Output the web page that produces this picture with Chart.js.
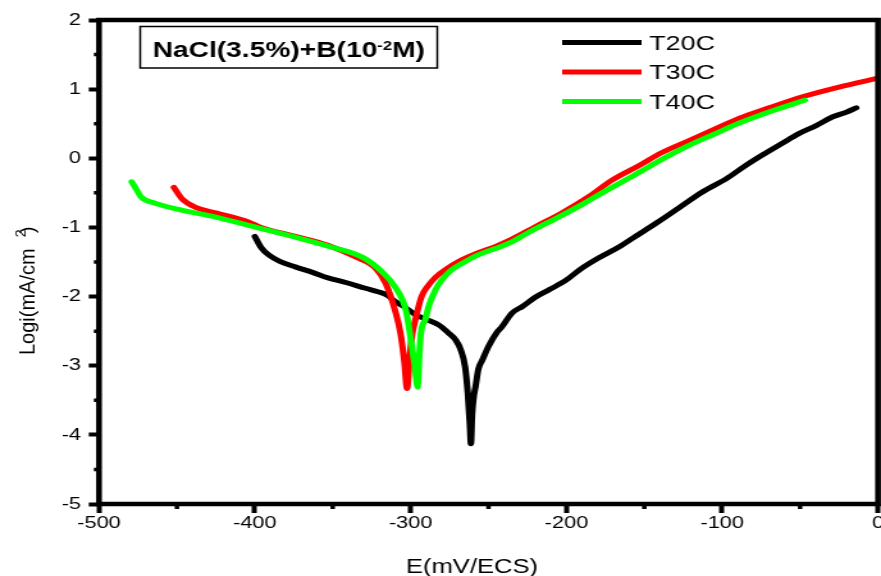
<!DOCTYPE html>
<html>
<head>
<meta charset="utf-8">
<title>Tafel curves NaCl(3.5%)+B</title>
<script src="https://cdn.jsdelivr.net/npm/chart.js@4.4.1/dist/chart.umd.min.js"></script>
<style>
  html, body { margin: 0; padding: 0; background: #fff; overflow: hidden; }
</style>
</head>
<body>
<!-- bitmap is 688 px wide and shown at 881 px, so the whole figure is widened -->
<canvas id="tafelChart" width="688" height="576" style="display:block;width:881px;height:576px"></canvas>
<script>
// potential (mV/ECS) and log current density for each temperature
const x20 = [-400, -396, -391, -384, -374, -363, -353, -341, -329, -321, -315, -310, -304, -297, -290, -282, -276, -271, -268, -265, -263.3, -262, -261.3, -260.5, -259.5, -258.3, -256.5, -254, -250, -245, -241.5, -235, -228, -220, -211, -200, -192, -180, -166, -155, -142.5, -128, -113, -97, -86, -74, -62, -50.5, -40, -29, -20, -14];
const y20 = [-1.13, -1.29, -1.40, -1.49, -1.57, -1.65, -1.73, -1.80, -1.88, -1.93, -1.98, -2.07, -2.15, -2.26, -2.33, -2.41, -2.52, -2.63, -2.76, -3.02, -3.40, -3.85, -4.13, -3.70, -3.45, -3.30, -3.05, -2.92, -2.72, -2.53, -2.44, -2.24, -2.14, -2.01, -1.90, -1.76, -1.62, -1.45, -1.28, -1.12, -0.94, -0.72, -0.49, -0.29, -0.12, 0.05, 0.21, 0.36, 0.47, 0.60, 0.67, 0.73];

const x30 = [-452, -447, -438, -425, -404, -396, -374, -353, -335, -322.5, -316, -310, -306.5, -304, -302.3, -300.5, -299, -297, -293, -289, -284, -277, -269, -257, -245, -235, -220, -203, -186, -171, -153, -139, -121, -106, -89, -70, -48.5, -25, 0];
const y30 = [-0.42, -0.58, -0.71, -0.79, -0.92, -1.00, -1.13, -1.26, -1.43, -1.59, -1.81, -2.20, -2.53, -2.95, -3.33, -2.85, -2.55, -2.34, -2.00, -1.85, -1.72, -1.60, -1.49, -1.37, -1.27, -1.17, -0.99, -0.79, -0.56, -0.32, -0.10, 0.08, 0.26, 0.41, 0.58, 0.73, 0.89, 1.03, 1.16];

const x40 = [-479, -476, -473, -464, -447, -425, -404, -374, -353, -331, -318, -310, -303, -299.5, -297.3, -295.5, -294.5, -293.4, -290.5, -288.5, -284, -280, -274, -267, -257, -245, -235, -224, -205, -190, -177, -160, -153, -139, -121, -106, -89, -70, -47];
const y40 = [-0.34, -0.45, -0.56, -0.65, -0.75, -0.85, -0.97, -1.14, -1.27, -1.43, -1.65, -1.86, -2.20, -2.67, -3.00, -3.31, -2.90, -2.53, -2.33, -2.15, -1.90, -1.76, -1.62, -1.52, -1.40, -1.30, -1.21, -1.07, -0.85, -0.67, -0.50, -0.29, -0.20, -0.02, 0.19, 0.34, 0.51, 0.67, 0.84];

const seriesNames = ['T20C', 'T30C', 'T40C'];
const xTicks = [-500, -400, -300, -200, -100, 0];
const yTicks = [-5, -4, -3, -2, -1, 0, 1, 2];

const S = 881 / 688; // css width / bitmap width
const FONT = '"Liberation Sans", Arial, sans-serif';
Chart.defaults.font.family = FONT;
Chart.defaults.color = '#000';

const toPoints = (xs, ys) => xs.map((x, i) => ({ x: x, y: ys[i] }));
const mids = t => t.slice(1).map((v, i) => (v + t[i]) / 2);
const xMinor = mids(xTicks);
const yMinor = mids(yTicks);

// frame, minor ticks, legend, boxed label and axis titles
const decorations = {
    id: 'decorations',
    afterDraw(chart) {
        const { ctx, chartArea: a } = chart;
        const xs = chart.scales.x, ys = chart.scales.y;
        ctx.save();
        ctx.strokeStyle = '#000';
        ctx.fillStyle = '#000';

        ctx.lineWidth = 3.5;
        ctx.beginPath();
        xMinor.forEach(v => {
            const px = xs.getPixelForValue(v);
            ctx.moveTo(px, a.bottom);
            ctx.lineTo(px, a.bottom + 5);
        });
        yMinor.forEach(v => {
            const py = ys.getPixelForValue(v);
            ctx.moveTo(a.left, py);
            ctx.lineTo(a.left - 4, py);
        });
        ctx.stroke();

        ctx.lineWidth = 4.5;
        ctx.strokeRect(a.left, a.top, a.right - a.left, a.bottom - a.top);

        // legend
        ctx.font = '21px ' + FONT;
        ctx.textBaseline = 'middle';
        ctx.textAlign = 'left';
        chart.data.datasets.forEach((ds, i) => {
            const ly = 42.5 + i * 29.5;
            ctx.strokeStyle = ds.borderColor;
            ctx.lineWidth = 5;
            ctx.beginPath();
            ctx.moveTo(439, ly);
            ctx.lineTo(501, ly);
            ctx.stroke();
            ctx.fillText(ds.label, 507, ly + 1.5);
        });

        // boxed solution label
        ctx.strokeStyle = '#000';
        ctx.lineWidth = 1.5;
        const bx = 109.5, bw = 232;
        ctx.strokeRect(bx, 26.5, bw, 41.5);
        ctx.textBaseline = 'alphabetic';
        const big = 'bold 22px ' + FONT, small = 'bold 13px ' + FONT;
        const p1 = 'NaCl(3.5%)+B(10', p2 = '-2', p3 = 'M)';
        ctx.font = big;
        const w1 = ctx.measureText(p1).width, w3 = ctx.measureText(p3).width;
        ctx.font = small;
        const w2 = ctx.measureText(p2).width;
        let tx = bx + bw / 2 - (w1 + w2 + w3) / 2;
        ctx.font = big;
        ctx.fillText(p1, tx, 56.5);
        tx += w1;
        ctx.font = small;
        ctx.fillText(p2, tx, 50);
        tx += w2;
        ctx.font = big;
        ctx.fillText(p3, tx, 56.5);

        // x axis title
        ctx.font = '20px ' + FONT;
        ctx.textAlign = 'center';
        ctx.fillText('E(mV/ECS)', 472 / S, 573);

        // y axis title, kept at its natural width
        ctx.save();
        ctx.translate(35 / S, 355);
        ctx.scale(1 / S, 1);
        ctx.rotate(-Math.PI / 2);
        ctx.textAlign = 'left';
        ctx.font = '20px ' + FONT;
        const main = 'Logi(mA/cm';
        const wm = ctx.measureText(main).width;
        ctx.fillText(main, 0, 0);
        ctx.font = '14px ' + FONT;
        ctx.fillText('2', wm + 11, -9);
        ctx.font = '20px ' + FONT;
        ctx.fillText(')', wm + 15, 0);
        ctx.restore();

        ctx.restore();
    }
};

const colors = ['#000000', '#ff0000', '#00ff00'];
const data = [toPoints(x20, y20), toPoints(x30, y30), toPoints(x40, y40)];

new Chart(document.getElementById('tafelChart'), {
    type: 'line',
    data: {
        datasets: seriesNames.map((name, i) => ({
            label: name,
            data: data[i],
            borderColor: colors[i],
            backgroundColor: colors[i],
            borderWidth: 5,
            pointRadius: 0,
            fill: false,
            cubicInterpolationMode: 'monotone',
            borderCapStyle: 'round',
            borderJoinStyle: 'round',
            order: 3 - i, // green drawn last
        })),
    },
    options: {
        responsive: false,
        animation: false,
        events: [],
        layout: { padding: { top: 20, right: 688 - 878 / S, left: 0, bottom: 0 } },
        plugins: {
            legend: { display: false },
            tooltip: { enabled: false },
        },
        scales: {
            x: {
                type: 'linear',
                min: -500,
                max: 0,
                afterBuildTicks: s => { s.ticks = xTicks.map(v => ({ value: v })); },
                afterFit: s => { s.height = 72; s.paddingLeft = 0; s.paddingRight = 0; },
                ticks: { font: { size: 17 }, padding: 0, maxRotation: 0, autoSkip: false },
                grid: { drawOnChartArea: false, drawTicks: true, tickLength: 9, tickWidth: 4, tickColor: '#000' },
                border: { display: false },
            },
            y: {
                type: 'linear',
                min: -5,
                max: 2,
                afterBuildTicks: s => { s.ticks = yTicks.map(v => ({ value: v })); },
                afterFit: s => { s.width = 99 / S; },
                ticks: { font: { size: 17 }, padding: 6, autoSkip: false },
                grid: { drawOnChartArea: false, drawTicks: true, tickLength: 8, tickWidth: 4, tickColor: '#000' },
                border: { display: false },
            },
        },
    },
    plugins: [decorations],
});
</script>
</body>
</html>
